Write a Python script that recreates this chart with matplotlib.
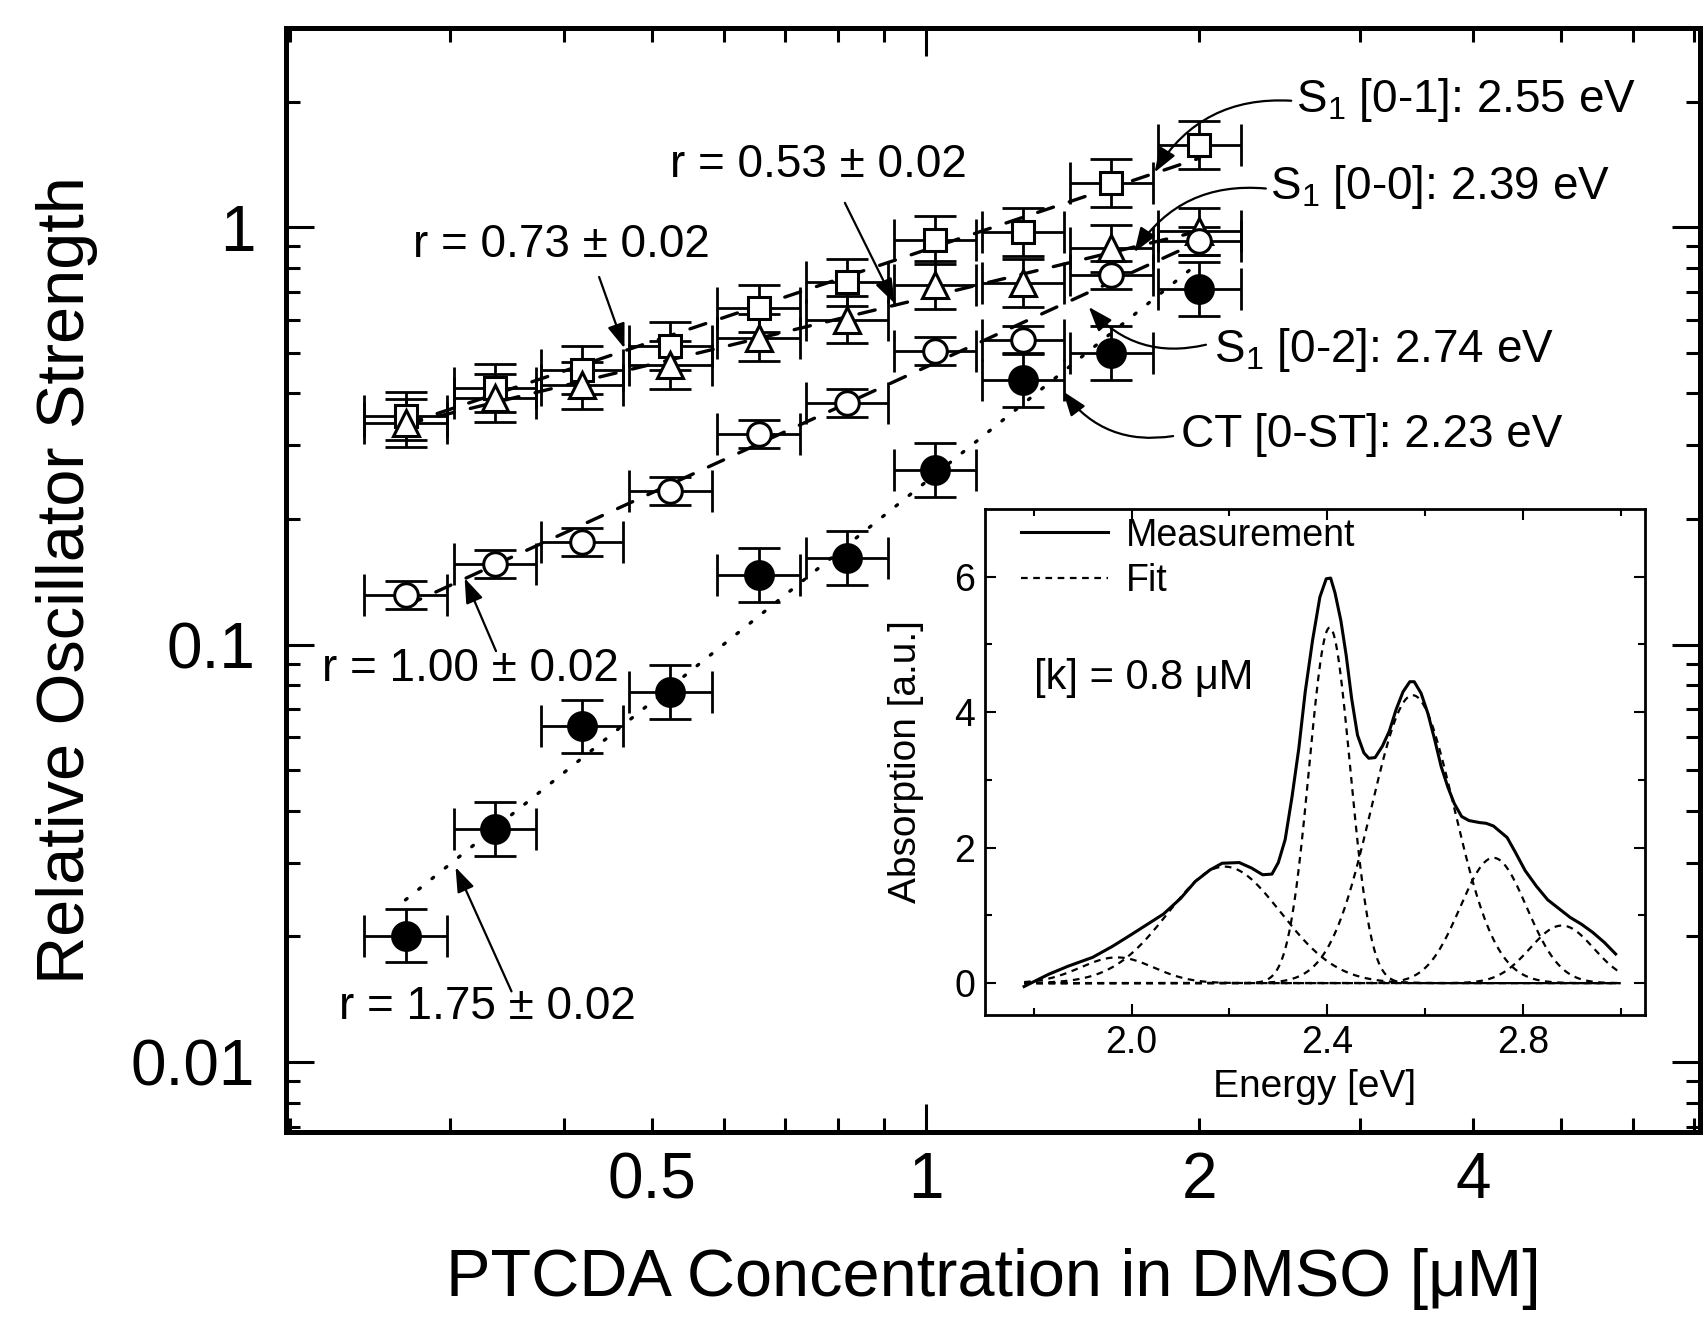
import numpy as np
import matplotlib
matplotlib.use("Agg")
import matplotlib.pyplot as plt
from matplotlib.ticker import LogLocator, NullFormatter

plt.rcParams['font.family'] = ['Liberation Sans', 'DejaVu Sans']
plt.rcParams['mathtext.fontset'] = 'custom'
plt.rcParams['mathtext.rm'] = 'Liberation Sans'
plt.rcParams['mathtext.it'] = 'Liberation Sans:italic'

# PTCDA concentration in DMSO [uM] (dilution series)
conc = [0.268, 0.336, 0.419, 0.524, 0.655, 0.819, 1.024, 1.28, 1.6, 2.0]

# relative oscillator strengths
s1_01 = [0.353, 0.412, 0.455, 0.519, 0.639, 0.738, 0.931, 0.975, 1.276, 1.572]
s1_00 = [0.340, 0.390, 0.418, 0.468, 0.544, 0.601, 0.727, 0.735, 0.890, 0.977]
s1_02 = [0.1315, 0.156, 0.176, 0.233, 0.320, 0.380, 0.504, 0.538, 0.769, 0.926]
ct_0st = [0.0201, 0.0362, 0.0637, 0.0770, 0.147, 0.161, 0.262, 0.430, 0.499, 0.711]

# power law exponents
r_vals = {'s1_01': 0.73, 's1_00': 0.53, 's1_02': 1.00, 'ct': 1.75}

# relative error factors (x, y)
x_err_factor = 1.11
y_err_factor = {'s1_01': 1.14, 's1_00': 1.14, 's1_02': 1.08, 'ct': 1.16}

# inset: measured spectrum at [k] = 0.8 uM
energy = [1.78, 1.83, 1.87, 1.92, 1.96, 2.00, 2.065, 2.10, 2.13, 2.16, 2.185, 2.22,
          2.245, 2.268, 2.287, 2.30, 2.314, 2.328, 2.342, 2.355, 2.37, 2.385, 2.398,
          2.407, 2.416, 2.428, 2.439, 2.45, 2.462, 2.475, 2.485, 2.498, 2.513, 2.527,
          2.541, 2.555, 2.569, 2.578, 2.592, 2.606, 2.62, 2.633, 2.647, 2.66, 2.675,
          2.69, 2.712, 2.725, 2.74, 2.768, 2.785, 2.805, 2.828, 2.851, 2.874, 2.897,
          2.92, 2.943, 2.967, 2.99]
absorption = [-0.05, 0.13, 0.25, 0.38, 0.54, 0.72, 1.02, 1.25, 1.50, 1.67, 1.77, 1.78,
              1.70, 1.60, 1.61, 1.78, 2.12, 2.75, 3.47, 4.30, 5.06, 5.70, 5.97, 5.98,
              5.76, 5.35, 4.83, 4.20, 3.66, 3.40, 3.32, 3.33, 3.50, 3.72, 4.04, 4.30,
              4.45, 4.45, 4.28, 3.98, 3.59, 3.20, 2.89, 2.65, 2.46, 2.40, 2.37, 2.36,
              2.32, 2.15, 1.93, 1.66, 1.43, 1.23, 1.10, 0.97, 0.87, 0.75, 0.60, 0.43]

# gaussian fit components: centre [eV], height, sigma [eV]
peak_centres = [1.97, 2.19, 2.405, 2.575, 2.74, 2.88]
peak_heights = [0.38, 1.72, 5.25, 4.25, 1.85, 0.85]
peak_sigmas = [0.075, 0.115, 0.042, 0.085, 0.068, 0.065]


def rel_err(vals, f):
    v = np.asarray(vals, dtype=float)
    return [v - v / f, v * f - v]


fig = plt.figure(figsize=(17.08, 13.29), dpi=100)
ax = fig.add_axes([0.1674, 0.1482, 0.8279, 0.8307])

c = np.asarray(conc)
series = [
    ('s1_01', s1_01, dict(marker='s', ms=16, mfc='white'), (0, (5, 5))),
    ('s1_00', s1_00, dict(marker='^', ms=19, mfc='white'), (0, (5, 5))),
    ('s1_02', s1_02, dict(marker='o', ms=17, mfc='white'), (0, (5, 5))),
    ('ct', ct_0st, dict(marker='o', ms=20, mfc='black'), (0, (0.6, 4.5))),
]

for key, vals, mstyle, ls in series:
    v = np.asarray(vals)
    r = r_vals[key]
    amp = 10 ** np.mean(np.log10(v) - r * np.log10(c))
    xfit = np.array([c[0], c[-1]])
    ax.plot(xfit, amp * xfit ** r, color='k', lw=2.4, linestyle=ls,
            dash_capstyle='round', zorder=2)
    ax.errorbar(c, v, xerr=rel_err(c, x_err_factor), yerr=rel_err(v, y_err_factor[key]),
                fmt='none', ecolor='k', elinewidth=2.0, capsize=15, capthick=2.0, zorder=3)
    ax.plot(c, v, linestyle='none', mec='k', mew=2.2, zorder=4, **mstyle)

ax.set_xscale('log')
ax.set_yscale('log')
ax.set_xlim(0.198, 7.1)
ax.set_ylim(0.0068, 3.0)

ax.set_xticks([1], labels=['1'])
minor_x = [0.2, 0.3, 0.4, 0.5, 0.6, 0.7, 0.8, 0.9, 2, 3, 4, 5, 6, 7]
minor_lbl = ['' if t not in (0.5, 2, 4) else ('0.5' if t == 0.5 else str(t)) for t in minor_x]
ax.set_xticks(minor_x, labels=minor_lbl, minor=True)
ax.set_yticks([0.01, 0.1, 1], labels=['0.01', '0.1', '1'])
ax.yaxis.set_minor_locator(LogLocator(base=10, subs=np.arange(2, 10)))
ax.yaxis.set_minor_formatter(NullFormatter())

ax.tick_params(which='both', direction='in', top=True, right=True, labelsize=46, width=2.2)
ax.tick_params(which='major', length=20)
ax.tick_params(which='minor', length=10)
ax.tick_params(axis='x', which='both', pad=14)
ax.tick_params(axis='y', which='both', pad=22)
for sp in ax.spines.values():
    sp.set_linewidth(3.6)

ax.set_xlabel('PTCDA Concentration in DMSO [μM]', fontsize=48, labelpad=26)
ax.set_ylabel('Relative Oscillator Strength', fontsize=48, labelpad=24)

arrow = dict(arrowstyle='-|>,head_length=0.5,head_width=0.18', color='k', lw=1.6,
             mutation_scale=30, shrinkA=0, shrinkB=0)

# slope labels
ax.text(0.3975, 0.907, 'r = 0.73 ± 0.02', fontsize=33, ha='center', va='center')
ax.annotate('', xy=(0.4665, 0.513), xytext=(0.4375, 0.760), arrowprops=arrow)
ax.text(0.763, 1.407, 'r = 0.53 ± 0.02', fontsize=33, ha='center', va='center')
ax.annotate('', xy=(0.9245, 0.657), xytext=(0.815, 1.144), arrowprops=arrow)
ax.text(0.3155, 0.0875, 'r = 1.00 ± 0.02', fontsize=33, ha='center', va='center')
ax.annotate('', xy=(0.3113, 0.1443), xytext=(0.337, 0.0965), arrowprops=arrow)
ax.text(0.330, 0.01357, 'r = 1.75 ± 0.02', fontsize=33, ha='center', va='center')
ax.annotate('', xy=(0.3042, 0.0293), xytext=(0.3505, 0.01477), arrowprops=arrow)

# transition labels
ax.text(3.924, 2.013, 'S$_1$ [0-1]: 2.55 eV', fontsize=33, ha='center', va='center')
ax.annotate('', xy=(1.785, 1.353), xytext=(2.523, 2.009),
            arrowprops=dict(arrow, connectionstyle='arc3,rad=0.3'))
ax.text(3.68, 1.247, 'S$_1$ [0-0]: 2.39 eV', fontsize=33, ha='center', va='center')
ax.annotate('', xy=(1.696, 0.871), xytext=(2.366, 1.238),
            arrowprops=dict(arrow, connectionstyle='arc3,rad=0.3'))
ax.text(3.189, 0.5085, 'S$_1$ [0-2]: 2.74 eV', fontsize=33, ha='center', va='center')
ax.annotate('', xy=(1.511, 0.644), xytext=(2.033, 0.523),
            arrowprops=dict(arrow, connectionstyle='arc3,rad=-0.3'))
ax.text(3.09, 0.3177, 'CT [0-ST]: 2.23 eV', fontsize=33, ha='center', va='center')
ax.annotate('', xy=(1.416, 0.4044), xytext=(1.871, 0.316),
            arrowprops=dict(arrow, connectionstyle='arc3,rad=-0.3'))

# inset spectrum
ax2 = fig.add_axes([0.5767, 0.2363, 0.3864, 0.3807])
ax2.plot(energy, absorption, color='k', lw=2.2, label='Measurement')
e_grid = np.linspace(1.78, 3.0, 500)
for i, (e0, h, sg) in enumerate(zip(peak_centres, peak_heights, peak_sigmas)):
    ax2.plot(e_grid, h * np.exp(-(e_grid - e0) ** 2 / (2 * sg ** 2)), color='k', lw=1.6,
             linestyle=(0, (3, 2.5)), label='Fit' if i == 0 else None)
ax2.set_xlim(1.70, 3.05)
ax2.set_ylim(-0.47, 7.0)
ax2.set_xticks([2.0, 2.4, 2.8], labels=['2.0', '2.4', '2.8'])
ax2.set_xticks([1.8, 2.2, 2.6, 3.0], minor=True)
ax2.set_yticks([0, 2, 4, 6], labels=['0', '2', '4', '6'])
ax2.set_yticks([1, 3, 5], minor=True)
ax2.tick_params(which='both', direction='in', top=True, right=True, labelsize=27, width=1.5, pad=7)
ax2.tick_params(which='major', length=8)
ax2.tick_params(which='minor', length=5)
for sp in ax2.spines.values():
    sp.set_linewidth(2.0)
ax2.set_xlabel('Energy [eV]', fontsize=28, labelpad=6)
ax2.set_ylabel('Absorption [a.u.]', fontsize=28, labelpad=22)
ax2.legend(loc='upper left', bbox_to_anchor=(0.055, 0.983), frameon=False, fontsize=27,
           borderaxespad=0, borderpad=0, handlelength=2.3, handletextpad=0.5,
           labelspacing=0.25)
ax2.text(0.2406, 0.666, '[k] = 0.8 μM', transform=ax2.transAxes, fontsize=30,
         ha='center', va='center')

fig.savefig('out.png', dpi=100)
